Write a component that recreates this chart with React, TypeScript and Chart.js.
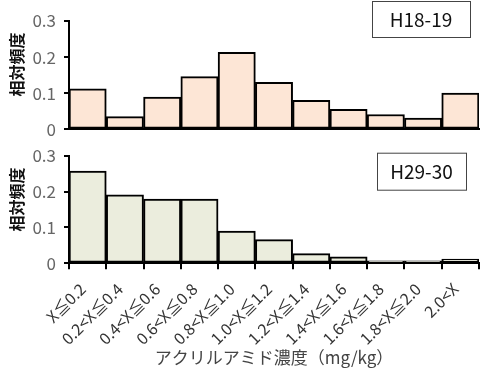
import React, { useEffect, useRef } from "react";
import { Chart, registerables } from "chart.js";
Chart.register(...registerables);

const categories = [
  "X≦0.2",
  "0.2<X≦0.4",
  "0.4<X≦0.6",
  "0.6<X≦0.8",
  "0.8<X≦1.0",
  "1.0<X≦1.2",
  "1.2<X≦1.4",
  "1.4<X≦1.6",
  "1.6<X≦1.8",
  "1.8<X≦2.0",
  "2.0<X",
];
const h18Values = [0.112, 0.035, 0.089, 0.146, 0.213, 0.13, 0.08, 0.055, 0.041, 0.031, 0.1];
const h29Values = [0.257, 0.191, 0.179, 0.179, 0.09, 0.066, 0.027, 0.018, 0.007, 0.007, 0.012];
const yTicks = [0, 0.1, 0.2, 0.3];
const yTickLabels = ["0", "0.1", "0.2", "0.3"];
const seriesLabels = ["H18-19", "H29-30"];
const yTitle = "相対頻度";
const xTitle = "アクリルアミド濃度（mg/kg）";

const FONT = "'Noto Sans CJK JP', 'Noto Sans', sans-serif";

type PanelOpts = {
  values: number[];
  fill: string;
  label: string;
  showX: boolean;
  height: number;
  padTop: number;
  areaBottom: number;
  box: [number, number, number, number];
  yTitleY: number;
  xTitleY?: number;
};

function makeChart(canvas: HTMLCanvasElement, o: PanelOpts) {
  const overlay = {
    id: "overlay",
    afterDraw(chart: any) {
      const ctx = chart.ctx as CanvasRenderingContext2D;
      ctx.save();
      ctx.translate(17, o.yTitleY);
      ctx.rotate(-Math.PI / 2);
      ctx.fillStyle = "#111";
      ctx.font = `bold 16px ${FONT}`;
      ctx.textAlign = "center";
      ctx.textBaseline = "middle";
      ctx.fillText(yTitle, 0, 0);
      ctx.restore();

      ctx.save();
      const [bx, by, bw, bh] = o.box;
      ctx.fillStyle = "#fff";
      ctx.fillRect(bx, by, bw, bh);
      ctx.strokeStyle = "#444";
      ctx.lineWidth = 1;
      ctx.strokeRect(bx + 0.5, by + 0.5, bw, bh);
      ctx.fillStyle = "#111";
      ctx.font = `19px ${FONT}`;
      ctx.textAlign = "center";
      ctx.textBaseline = "middle";
      ctx.fillText(o.label, bx + bw / 2, by + bh / 2 + 1);
      ctx.restore();

      if (o.showX && o.xTitleY !== undefined) {
        ctx.save();
        const area = chart.chartArea;
        ctx.fillStyle = "#444";
        ctx.font = `17px ${FONT}`;
        ctx.textAlign = "center";
        ctx.textBaseline = "middle";
        ctx.fillText(xTitle, (area.left + area.right) / 2, o.xTitleY);
        ctx.restore();
      }
    },
  };

  return new Chart(canvas, {
    type: "bar",
    data: {
      labels: categories,
      datasets: [
        {
          label: o.label,
          data: o.values,
          backgroundColor: o.fill,
          borderColor: "#000",
          borderWidth: 2,
          borderSkipped: false,
          barPercentage: 1,
          categoryPercentage: 1,
        },
      ],
    },
    options: {
      responsive: false,
      maintainAspectRatio: false,
      animation: false,
      layout: {
        padding: { left: 9, right: 18, top: o.padTop, bottom: 0 },
      },
      plugins: {
        legend: { display: false },
        tooltip: { enabled: false },
        title: { display: false },
      },
      scales: {
        x: {
          offset: true,
          ticks: {
            display: o.showX,
            autoSkip: false,
            minRotation: 45,
            maxRotation: 45,
            padding: 10,
            labelOffset: -5,
            color: "#333",
            font: { family: FONT, size: 16 },
          },
          grid: {
            display: o.showX,
            drawOnChartArea: false,
            drawTicks: true,
            tickLength: 6,
            color: "#000",
            lineWidth: 2,
            offset: true,
          },
          border: { display: true, color: "#000", width: 2 },
          afterFit: (scale: any) => {
            scale.height = o.height - o.areaBottom;
            scale.paddingLeft = 0;
            scale.paddingRight = 0;
          },
        },
        y: {
          min: 0,
          max: 0.3,
          afterBuildTicks: (scale: any) => {
            scale.ticks = yTicks.map((v) => ({ value: v }));
          },
          ticks: {
            padding: 8,
            color: "#666",
            font: { family: FONT, size: 17 },
            callback: (v: any) => {
              const i = yTicks.findIndex((t) => Math.abs(t - Number(v)) < 1e-9);
              return i >= 0 ? yTickLabels[i] : "";
            },
          },
          grid: {
            drawOnChartArea: false,
            drawTicks: true,
            tickLength: 5,
            color: "#000",
            lineWidth: 2,
          },
          border: { display: true, color: "#000", width: 2 },
          afterFit: (scale: any) => {
            scale.width = 60;
            scale.paddingTop = 0;
            scale.paddingBottom = 0;
          },
        },
      },
    },
    plugins: [overlay],
  });
}

export default function App() {
  const topRef = useRef<HTMLCanvasElement>(null);
  const botRef = useRef<HTMLCanvasElement>(null);

  useEffect(() => {
    const c1 = makeChart(topRef.current!, {
      values: h18Values,
      fill: "#fde6d6",
      label: seriesLabels[0],
      showX: false,
      height: 140,
      padTop: 21,
      areaBottom: 129.3,
      box: [372, 1, 98, 36],
      yTitleY: 64.5,
    });
    const c2 = makeChart(botRef.current!, {
      values: h29Values,
      fill: "#ebeddd",
      label: seriesLabels[1],
      showX: true,
      height: 240,
      padTop: 15.7,
      areaBottom: 123.3,
      box: [377, 12.7, 89, 37],
      yTitleY: 59.5,
      xTitleY: 218,
    });
    return () => {
      c1.destroy();
      c2.destroy();
    };
  }, []);

  return (
    <div style={{ position: "absolute", left: 0, top: 0, width: 497, height: 380, background: "#fff" }}>
      <canvas ref={topRef} width={497} height={140} style={{ display: "block", width: 497, height: 140 }} />
      <canvas ref={botRef} width={497} height={240} style={{ display: "block", width: 497, height: 240 }} />
    </div>
  );
}
